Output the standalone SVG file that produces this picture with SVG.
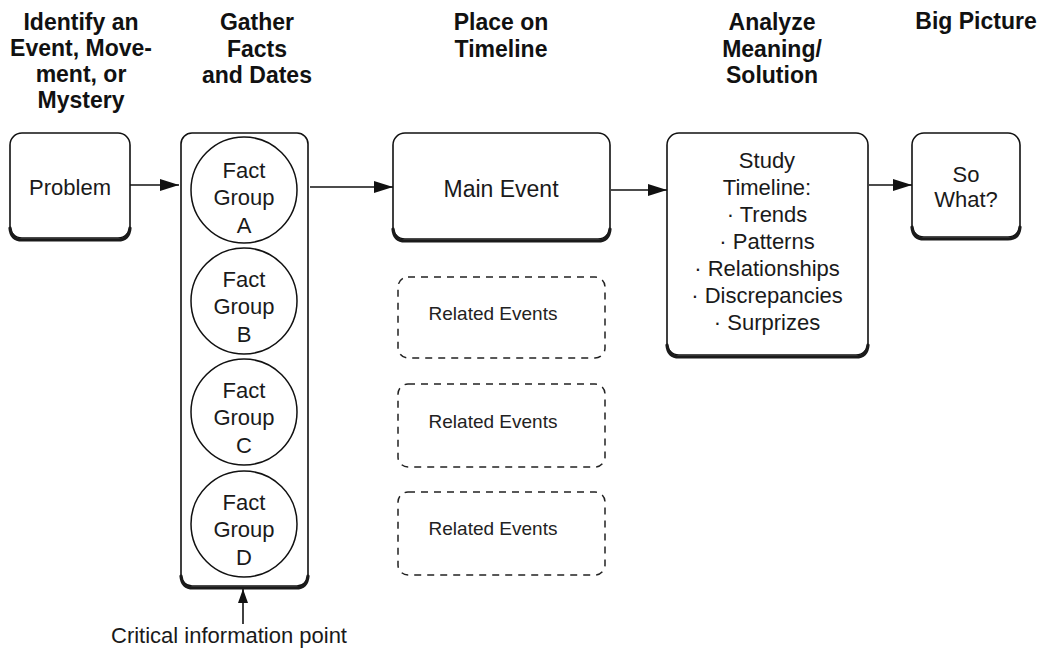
<svg xmlns="http://www.w3.org/2000/svg" width="1043" height="653" viewBox="0 0 1043 653">
<style>
  .hdr { font-family: "Liberation Sans", Arial, sans-serif; font-weight: bold; font-size: 23px; fill: #111; text-anchor: middle; }
  .txt { font-family: "Liberation Sans", Arial, sans-serif; font-size: 22px; fill: #1a1a1a; text-anchor: middle; }
  .rel { font-family: "Liberation Sans", Arial, sans-serif; font-size: 19px; fill: #222; text-anchor: middle; }
  .box { fill: #fff; stroke: #111; stroke-width: 1.6; }
  .shadow { fill: none; stroke: #1a1a1a; stroke-width: 3.2; stroke-linecap: round; }
  .dash { fill: none; stroke: #222; stroke-width: 1.5; stroke-dasharray: 7 6; }
  .circ { fill: #fff; stroke: #111; stroke-width: 1.5; }
  .conn { fill: none; stroke: #111; stroke-width: 1.6; }
</style>
<defs>
  <marker id="ah" markerUnits="userSpaceOnUse" markerWidth="22" markerHeight="14" refX="19" refY="6" orient="auto">
    <path d="M0,0 L19,6 L0,12 z" fill="#111"/>
  </marker>
  <marker id="ahs" markerUnits="userSpaceOnUse" markerWidth="16" markerHeight="12" refX="14" refY="5" orient="auto">
    <path d="M0,0 L14,5 L0,10 z" fill="#111"/>
  </marker>
</defs>

<g id="headers">
  <text class="hdr" x="81" y="30">Identify an</text>
  <text class="hdr" x="81" y="56">Event, Move-</text>
  <text class="hdr" x="81" y="82">ment, or</text>
  <text class="hdr" x="81" y="108">Mystery</text>
  <text class="hdr" x="257" y="30">Gather</text>
  <text class="hdr" x="257" y="57">Facts</text>
  <text class="hdr" x="257" y="83">and Dates</text>
  <text class="hdr" x="501" y="30">Place on</text>
  <text class="hdr" x="501" y="57">Timeline</text>
  <text class="hdr" x="772" y="30">Analyze</text>
  <text class="hdr" x="772" y="57">Meaning/</text>
  <text class="hdr" x="772" y="83">Solution</text>
  <text class="hdr" x="976" y="29">Big Picture</text>
</g>

<g id="connectors">
  <line class="conn" x1="130" y1="185" x2="179" y2="185" marker-end="url(#ah)"/>
  <line class="conn" x1="310" y1="187" x2="393" y2="187" marker-end="url(#ah)"/>
  <line class="conn" x1="611" y1="190" x2="667" y2="190" marker-end="url(#ah)"/>
  <line class="conn" x1="869" y1="185" x2="912" y2="185" marker-end="url(#ah)"/>
  <line class="conn" x1="243" y1="624" x2="243" y2="589" marker-end="url(#ahs)"/>
</g>

<g id="problem">
  <rect class="box" x="10" y="133" width="120" height="105" rx="12"/>
  <path class="shadow" d="M10,228 Q11,240 22,240 H118 Q129,240 130,228"/>
  <text class="txt" x="70" y="195">Problem</text>
</g>

<g id="fact-column">
  <rect class="box" x="181" y="133" width="127" height="453" rx="11"/>
  <path class="shadow" d="M181,576 Q182,588 193,588 H296 Q307,588 308,576"/>
</g>

<g id="fact-a">
  <circle class="circ" cx="244" cy="190" r="53"/>
  <text class="txt" x="244" y="178">Fact</text>
  <text class="txt" x="244" y="205">Group</text>
  <text class="txt" x="244" y="233">A</text>
</g>
<g id="fact-b">
  <circle class="circ" cx="244" cy="301" r="53"/>
  <text class="txt" x="244" y="287">Fact</text>
  <text class="txt" x="244" y="314">Group</text>
  <text class="txt" x="244" y="342">B</text>
</g>
<g id="fact-c">
  <circle class="circ" cx="244" cy="412" r="53"/>
  <text class="txt" x="244" y="398">Fact</text>
  <text class="txt" x="244" y="425">Group</text>
  <text class="txt" x="244" y="453">C</text>
</g>
<g id="fact-d">
  <circle class="circ" cx="244" cy="524" r="53"/>
  <text class="txt" x="244" y="510">Fact</text>
  <text class="txt" x="244" y="537">Group</text>
  <text class="txt" x="244" y="565">D</text>
</g>

<g id="main-event">
  <rect class="box" x="393" y="133" width="217" height="106" rx="12"/>
  <path class="shadow" d="M393,229 Q394,241 405,241 H598 Q609,241 610,229"/>
  <text class="txt" x="501" y="197" style="font-size:23px">Main Event</text>
</g>

<g id="related-1">
  <rect class="dash" x="398" y="277" width="207" height="81" rx="10"/>
  <text class="rel" x="493" y="320">Related Events</text>
</g>
<g id="related-2">
  <rect class="dash" x="398" y="384" width="207" height="83" rx="10"/>
  <text class="rel" x="493" y="428">Related Events</text>
</g>
<g id="related-3">
  <rect class="dash" x="398" y="492" width="207" height="83" rx="10"/>
  <text class="rel" x="493" y="535">Related Events</text>
</g>

<g id="study-timeline">
  <rect class="box" x="667" y="133" width="201" height="222" rx="12"/>
  <path class="shadow" d="M667,345 Q668,357 679,357 H856 Q867,357 868,345"/>
  <text class="txt" x="767" y="168">Study</text>
  <text class="txt" x="767" y="195">Timeline:</text>
  <text class="txt" x="767" y="222">· Trends</text>
  <text class="txt" x="767" y="249">· Patterns</text>
  <text class="txt" x="767" y="276">· Relationships</text>
  <text class="txt" x="767" y="303">· Discrepancies</text>
  <text class="txt" x="767" y="330">· Surprizes</text>
</g>

<g id="so-what">
  <rect class="box" x="912" y="133" width="108" height="104" rx="12"/>
  <path class="shadow" d="M912,227 Q913,239 924,239 H1008 Q1019,239 1020,227"/>
  <text class="txt" x="966" y="182">So</text>
  <text class="txt" x="966" y="207">What?</text>
</g>

<g id="critical-label">
  <text class="txt" x="229" y="643">Critical information point</text>
</g>
</svg>
